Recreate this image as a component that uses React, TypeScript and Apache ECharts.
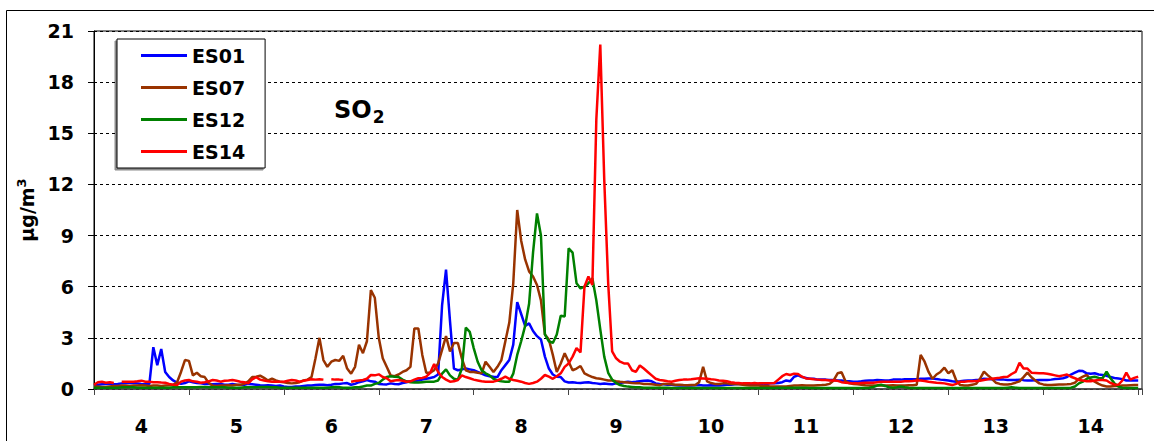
import { useEffect, useRef } from "react";
import * as echarts from "echarts";

// Hourly SO2 concentrations (µg/m³) at four stations, from day 4 00:00 to day 15 00:00.
const startDay = 4;
const hoursPerDay = 24;
const seriesNames = ["ES01", "ES07", "ES12", "ES14"];
const seriesColors = ["#0000FF", "#993300", "#008000", "#FF0000"];
const yMin = 0;
const yMax = 21;
const yStep = 3;
const xMin = 4;
const xMax = 15.04;

const es01: (number | null)[] = [
  // day 4
  0.22, 0.25, 0.28, 0.3, 0.3, 0.28, 0.3, 0.33, 0.35, 0.37, 0.35, 0.33, 0.3, 0.28, 0.3, 2.45, 1.4, 2.35, 1.0, 0.7, 0.5, 0.38, 0.3, 0.35,
  // day 5
  0.45, 0.4, 0.35, 0.33, 0.3, 0.3, 0.28, 0.3, 0.3, 0.25, 0.25, 0.3, 0.25, 0.23, 0.25, 0.3, 0.28, 0.25, 0.22, 0.2, 0.22, 0.2, 0.18, 0.2,
  // day 6
  0.15, 0.12, 0.12, 0.15, 0.15, 0.18, 0.2, 0.2, 0.23, 0.25, 0.25, 0.22, 0.25, 0.3, 0.3, 0.33, 0.35, 0.25, 0.3, 0.4, 0.45, 0.53, 0.45, 0.43,
  // day 7
  0.3, 0.28, 0.27, 0.33, 0.3, 0.28, 0.35, 0.4, 0.45, 0.47, 0.5, 0.55, 0.6, 0.65, 0.7, 0.85, 4.9, 7.0, 4.0, 1.2, 1.1, 1.15, 1.2, 1.15,
  // day 8
  1.1, 1.0, 0.9, 0.8, 0.75, 0.72, 0.7, 1.1, 1.4, 1.7, 2.6, 5.1, 4.4, 3.7, 3.85, 3.4, 3.1, 2.9, 1.9, 1.2, 0.85, 0.72, 0.7, 0.45,
  // day 9
  0.38, 0.4, 0.37, 0.35, 0.38, 0.4, 0.35, 0.33, 0.3, 0.32, 0.3, 0.28, 0.33, 0.35, 0.4, 0.43, 0.4, 0.42, 0.45, 0.48, 0.5, 0.45, 0.33, 0.3,
  // day 10
  0.28, 0.25, 0.25, 0.22, 0.2, 0.22, 0.2, 0.2, 0.22, 0.23, 0.2, 0.2, 0.22, 0.2, 0.2, 0.22, 0.25, 0.25, 0.28, 0.3, 0.3, 0.3, 0.3, 0.3,
  // day 11
  0.3, 0.32, 0.3, 0.33, 0.33, 0.35, 0.4, 0.5, 0.45, 0.72, 0.8, 0.7, 0.65, 0.6, 0.6, 0.55, 0.55, 0.55, 0.53, 0.53, 0.5, 0.5, 0.45, 0.45,
  // day 12
  0.43, 0.43, 0.45, 0.48, 0.5, 0.5, 0.53, 0.52, 0.5, 0.5, 0.55, 0.55, 0.55, 0.57, 0.57, 0.57, 0.57, 0.6, 0.6, 0.62, 0.62, 0.58, 0.55, 0.53,
  // day 13
  0.5, 0.45, 0.43, 0.45, 0.48, 0.5, 0.5, 0.53, 0.53, 0.6, 0.58, 0.57, 0.57, 0.55, 0.55, 0.53, 0.53, 0.53, 0.55, 0.52, 0.5, 0.5, 0.52, 0.53,
  // day 14
  0.53, 0.53, 0.55, 0.58, 0.6, 0.63, 0.7, 0.85, 0.96, 1.07, 1.05, 0.92, 0.9, 0.92, 0.85, 0.82, 0.78, 0.7, 0.65, 0.62, 0.58, 0.5, 0.5, 0.5,
  // day 15
  0.5,
];

const es07: (number | null)[] = [
  // day 4
  0.15, 0.15, 0.12, 0.12, 0.15, 0.18, 0.18, 0.2, 0.2, 0.18, 0.2, 0.2, 0.22, 0.2, 0.18, 0.2, 0.2, 0.18, 0.2, 0.22, 0.25, 0.4, 1.0, 1.7,
  // day 5
  1.65, 0.8, 0.95, 0.75, 0.7, 0.35, 0.2, 0.18, 0.2, 0.2, 0.22, 0.2, 0.25, 0.25, 0.3, 0.45, 0.7, 0.72, 0.78, 0.65, 0.5, 0.6, 0.5, 0.43,
  // day 6
  0.4, 0.35, 0.33, 0.35, 0.4, 0.5, 0.55, 0.7, 1.8, 3.0, 1.7, 1.3, 1.6, 1.7, 1.65, 1.95, 1.2, 0.9, 1.3, 2.6, 2.1, 2.8, 5.8, 5.35,
  // day 7
  3.0, 1.8, 1.3, 0.8, 0.75, 0.85, 1.0, 1.1, 1.3, 3.55, 3.55, 2.0, 0.95, 0.95, 1.1, 1.5, 2.3, 3.1, 2.2, 2.7, 2.7, 1.8, 1.1, 1.0,
  // day 8
  1.0, 0.95, 0.92, 1.6, 1.3, 1.0, 1.3, 1.7, 2.8, 3.9, 6.2, 10.5, 8.7, 7.6, 6.9, 6.6, 6.1, 5.2, 3.2, 2.9, 2.0, 1.0, 1.5, 2.1,
  // day 9
  1.6, 1.1, 1.2, 1.35, 0.92, 0.8, 0.7, 0.63, 0.6, 0.55, 0.5, 0.5, 0.45, 0.42, 0.4, 0.38, 0.35, 0.33, 0.33, 0.3, 0.3, 0.28, 0.25, 0.22,
  // day 10
  0.3, 0.3, 0.28, 0.25, 0.25, 0.23, 0.22, 0.23, 0.23, 0.4, 1.3, 0.45, 0.35, 0.3, 0.3, 0.33, 0.33, 0.3, 0.3, 0.28, 0.25, 0.22, 0.2, 0.2,
  // day 11
  0.2, 0.18, 0.18, 0.15, 0.15, 0.15, 0.15, 0.15, 0.18, 0.2, 0.2, 0.22, 0.2, 0.2, 0.2, 0.22, 0.23, 0.25, 0.3, 0.5, 0.92, 0.98, 0.45, 0.33,
  // day 12
  0.3, 0.28, 0.25, 0.22, 0.2, 0.2, 0.2, 0.22, 0.2, 0.2, 0.22, 0.2, 0.2, 0.2, 0.22, 0.22, 0.25, 2.0, 1.6, 1.0, 0.6, 0.85, 1.0, 1.25,
  // day 13
  0.92, 1.1, 0.5, 0.23, 0.2, 0.2, 0.25, 0.3, 0.6, 1.02, 0.8, 0.6, 0.37, 0.3, 0.27, 0.27, 0.3, 0.37, 0.45, 0.7, 0.96, 0.69, 0.5, 0.33,
  // day 14
  0.27, 0.23, 0.23, 0.25, 0.27, 0.27, 0.28, 0.3, 0.37, 0.6, 0.72, 0.82, 0.55, 0.43, 0.3, 0.2, 0.15, 0.15, 0.18, 0.18, 0.2, 0.2, 0.22, 0.23,
  // day 15
  0.23,
];

const es12: (number | null)[] = [
  // day 4
  0.08, 0.08, 0.08, 0.07, 0.07, 0.08, 0.08, 0.1, 0.1, 0.1, 0.1, 0.08, 0.08, 0.08, 0.07, 0.07, 0.07, 0.08, 0.08, 0.08, 0.1, 0.1, 0.1, 0.1,
  // day 5
  0.1, 0.1, 0.1, 0.12, 0.12, 0.1, 0.1, 0.1, 0.1, 0.1, 0.08, 0.08, 0.08, 0.08, 0.1, 0.1, 0.1, 0.1, 0.12, 0.12, 0.12, 0.1, 0.1, 0.08,
  // day 6
  0.08, 0.08, 0.07, 0.07, 0.07, 0.07, 0.07, 0.07, 0.08, 0.08, 0.08, 0.08, 0.1, 0.12, 0.1, 0.08, 0.08, 0.08, 0.1, 0.1, 0.15, 0.2, 0.2, 0.3,
  // day 7
  0.35, 0.55, 0.7, 0.75, 0.72, 0.7, 0.55, 0.45, 0.4, 0.38, 0.38, 0.4, 0.42, 0.43, 0.43, 0.5, 0.9, 1.15, 0.8, 0.6, 0.55, 1.2, 3.6, 3.35,
  // day 8
  2.4, 1.6, 1.1, 0.92, 0.8, 0.6, 0.5, 0.45, 0.43, 0.43, 0.9, 2.0, 2.8, 3.7, 5.0, 8.0, 10.3, 9.0, 3.2, 2.8, 2.7, 3.2, 4.3, 4.25,
  // day 9
  8.25, 8.0, 6.2, 5.9, 6.0, 6.2, 6.5, 5.2, 3.5, 1.9, 0.95, 0.55, 0.35, 0.23, 0.18, 0.14, 0.12, 0.1, 0.1, 0.08, 0.08, 0.07, 0.07, 0.07,
  // day 10
  0.07, 0.07, 0.06, 0.06, 0.06, 0.06, 0.06, 0.06, 0.06, 0.06, 0.06, 0.06, 0.06, 0.06, 0.06, 0.06, 0.06, 0.06, 0.06, 0.06, 0.06, 0.06, 0.06, 0.06,
  // day 11
  0.06, 0.06, 0.06, 0.06, 0.06, 0.07, 0.07, 0.07, 0.08, 0.08, 0.08, 0.07, 0.07, 0.06, 0.06, 0.06, 0.06, 0.06, 0.06, 0.06, 0.06, 0.06, 0.06, 0.06,
  // day 12
  0.06, 0.06, 0.06, 0.06, 0.08, 0.12, 0.2, 0.25, 0.18, 0.1, 0.08, 0.1, 0.15, 0.1, 0.07, 0.06, 0.06, 0.06, 0.06, 0.06, 0.06, 0.06, 0.06, 0.06,
  // day 13
  0.06, 0.06, 0.06, 0.06, 0.06, 0.06, 0.06, 0.06, 0.06, 0.06, 0.06, 0.06, 0.06, 0.06, 0.06, 0.08, 0.1, 0.08, 0.06, 0.06, 0.06, 0.06, 0.06, 0.06,
  // day 14
  0.06, 0.06, 0.06, 0.06, 0.06, 0.06, 0.06, 0.08, 0.15, 0.33, 0.43, 0.6, 0.68, 0.72, 0.65, 0.63, 1.02, 0.63, 0.33, 0.14, 0.07, 0.06, 0.06, 0.06,
  // day 15
  0.06,
];

// null marks hours with no valid measurement
const es14: (number | null)[] = [
  // day 4
  0.25, 0.4, 0.43, 0.37, 0.4, 0.35, null, 0.43, 0.43, 0.43, 0.43, 0.45, 0.49, 0.43, 0.42, 0.4, 0.4, 0.38, 0.37, 0.3, 0.25, 0.23, 0.43, 0.5,
  // day 5
  0.53, 0.45, 0.43, 0.37, 0.4, 0.45, 0.53, 0.5, 0.43, 0.48, 0.5, 0.53, 0.48, 0.43, 0.4, 0.33, 0.57, 0.69, 0.55, 0.5, 0.45, 0.43, 0.43, 0.43,
  // day 6
  0.43, 0.48, 0.53, 0.5, 0.43, 0.48, 0.53, 0.57, 0.55, 0.57, 0.55, null, 0.57, 0.55, 0.55, 0.53, null, 0.43, 0.47, 0.5, 0.53, 0.6, 0.82, 0.8,
  // day 7
  0.86, 0.7, 0.63, 0.45, 0.5, 0.53, 0.48, 0.43, 0.45, 0.55, 0.63, 0.65, 0.72, 0.95, 1.47, 1.0, 0.7, 0.55, 0.43, 0.45, 0.53, 0.8, 0.7, 0.63,
  // day 8
  0.55, 0.5, 0.45, 0.43, 0.43, 0.43, 0.5, 0.6, 0.72, 0.6, 0.53, 0.48, 0.43, 0.35, 0.3, 0.35, 0.43, 0.6, 0.82, 0.72, 0.6, 0.75, 0.92, 1.3,
  // day 9
  1.5, 1.9, 2.4, 2.15, 6.0, 6.6, 6.1, 15.8, 20.2, 12.3, 6.2, 2.2, 1.8, 1.6, 1.5, 1.5, 1.1, 1.0, 1.38, 1.2, 1.0, 0.8, 0.6, 0.53,
  // day 10
  0.5, 0.45, 0.43, 0.48, 0.53, 0.55, 0.55, 0.57, 0.6, 0.63, 0.62, 0.6, 0.57, 0.55, 0.5, 0.49, 0.45, 0.4, 0.37, 0.35, 0.33, 0.33, 0.33, 0.35,
  // day 11
  0.33, 0.33, 0.33, 0.33, 0.35, 0.55, 0.75, 0.88, 0.82, 0.9, 0.88, 0.72, 0.62, 0.6, 0.57, 0.55, 0.53, 0.53, 0.5, 0.5, 0.48, 0.4, 0.37, 0.35,
  // day 12
  0.33, 0.33, 0.35, 0.37, 0.37, 0.37, 0.4, 0.43, 0.43, 0.43, 0.43, 0.43, 0.43, 0.45, 0.45, 0.47, 0.5, 0.5, 0.47, 0.43, 0.4, 0.37, 0.35, 0.33,
  // day 13
  0.28, 0.23, 0.3, 0.43, 0.43, 0.45, 0.45, 0.47, 0.49, 0.53, 0.57, 0.6, 0.63, 0.66, 0.7, 0.72, 0.88, 1.0, 1.54, 1.2, 1.2, 0.96, 0.94, 0.92,
  // day 14
  0.92, 0.9, 0.85, 0.8, 0.75, 0.8, 0.85, 0.72, 0.63, 0.53, 0.5, 0.45, 0.45, 0.5, 0.53, 0.53, 0.5, 0.35, 0.27, 0.25, 0.5, 0.96, 0.55, 0.65,
  // day 15
  0.72,
];

const seriesValues = [es01, es07, es12, es14];

const FONT = "'DejaVu Sans', Verdana, sans-serif";

function toPoints(values: (number | null)[]) {
  return values.map((v, i) => [startDay + i / hoursPerDay, v === null ? "-" : v]);
}

// The day number is printed in the middle of each day span.
function dayLabel(v: number): string {
  const frac = v - Math.floor(v);
  return Math.abs(frac - 0.5) < 1e-6 ? String(Math.floor(v)) : "";
}

export default function App() {
  const ref = useRef<HTMLDivElement>(null);

  useEffect(() => {
    if (!ref.current) return;
    const chart = echarts.init(ref.current, undefined, { renderer: "svg" });

    const option: echarts.EChartsOption = {
      animation: false,
      backgroundColor: "#ffffff",
      title: {
        text: "{a|SO}{b|2}",
        left: 334,
        top: 95,
        padding: 0,
        textStyle: {
          rich: {
            a: { fontSize: 24, fontWeight: "bold", fontFamily: FONT, color: "#000", lineHeight: 30 },
            b: {
              fontSize: 17,
              fontWeight: "bold",
              fontFamily: FONT,
              color: "#000",
              lineHeight: 18,
              verticalAlign: "bottom",
              padding: [0, 0, 0, 1],
            },
          },
        },
      },
      legend: {
        orient: "vertical",
        left: 117,
        top: 39,
        padding: [7, 20, 7, 24],
        itemWidth: 46,
        itemHeight: 3,
        itemGap: 13,
        icon: "rect",
        backgroundColor: "#ffffff",
        borderColor: "#000000",
        borderWidth: 1,
        shadowColor: "rgba(0,0,0,0.45)",
        shadowOffsetX: -2,
        shadowOffsetY: 2,
        shadowBlur: 0,
        textStyle: { fontSize: 19, fontWeight: "bold", color: "#000", fontFamily: FONT },
        data: seriesNames,
      },
      grid: {
        left: 94,
        right: 12,
        top: 31,
        bottom: 52,
        show: true,
        borderColor: "#000",
        borderWidth: 1,
      },
      xAxis: [
        {
          type: "value",
          position: "bottom",
          min: xMin,
          max: xMax,
          interval: 1,
          axisLine: { show: true, onZero: false, lineStyle: { color: "#444", width: 1.5 } },
          axisTick: { show: true, length: 6, lineStyle: { color: "#444", width: 1 } },
          axisLabel: { show: false },
          splitLine: { show: false },
        },
        {
          type: "value",
          position: "bottom",
          min: xMin,
          max: xMax,
          interval: 0.5,
          axisLine: { show: false },
          axisTick: { show: false },
          splitLine: { show: false },
          axisLabel: {
            show: true,
            margin: 27,
            fontSize: 19,
            fontWeight: "bold",
            color: "#000",
            fontFamily: FONT,
            formatter: (v: number) => dayLabel(v),
          },
        },
      ],
      yAxis: {
        type: "value",
        min: yMin,
        max: yMax,
        interval: yStep,
        name: "{a|µg/m}{b|3}",
        nameLocation: "middle",
        nameRotate: 90,
        nameGap: 54,
        nameTextStyle: {
          rich: {
            a: { fontSize: 19, fontWeight: "bold", color: "#000", fontFamily: FONT, lineHeight: 24 },
            b: {
              fontSize: 13,
              fontWeight: "bold",
              color: "#000",
              fontFamily: FONT,
              lineHeight: 14,
              verticalAlign: "top",
            },
          },
        },
        axisLine: { show: true, lineStyle: { color: "#000", width: 1 } },
        axisTick: { show: true, length: 6, lineStyle: { color: "#000" } },
        axisLabel: { margin: 20, fontSize: 19, fontWeight: "bold", color: "#000", fontFamily: FONT },
        splitLine: { show: true, lineStyle: { color: "#000", width: 1, type: [3, 3] } },
      },
      graphic: [
        {
          type: "rect",
          silent: true,
          z: -10,
          shape: { x: 6.5, y: 10.5, width: 1160, height: 460 },
          style: { fill: "none", stroke: "#000", lineWidth: 1 },
        },
      ],
      series: seriesNames.map((name, k) => ({
        name,
        type: "line",
        xAxisIndex: 0,
        data: toPoints(seriesValues[k]),
        showSymbol: false,
        symbol: "none",
        connectNulls: false,
        lineStyle: { color: seriesColors[k], width: 2.5 },
        itemStyle: { color: seriesColors[k] },
        emphasis: { disabled: true },
      })),
    };

    chart.setOption(option);
    return () => chart.dispose();
  }, []);

  return (
    <div
      ref={ref}
      style={{ position: "absolute", left: 0, top: 0, width: 1154, height: 441, background: "#fff" }}
    />
  );
}
